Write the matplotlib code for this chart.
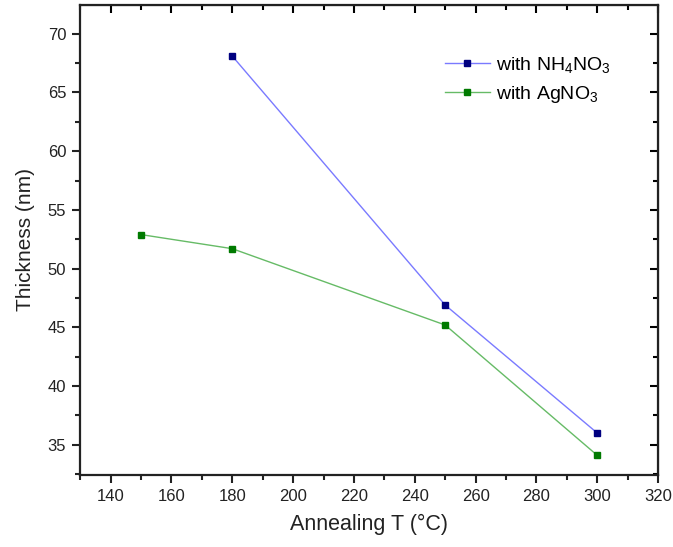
import matplotlib
matplotlib.use("Agg")
import matplotlib.pyplot as plt
from matplotlib.ticker import MultipleLocator

plt.rcParams['font.family'] = ['Liberation Sans', 'DejaVu Sans']
plt.rcParams['mathtext.fontset'] = 'custom'
plt.rcParams['mathtext.rm'] = 'Liberation Sans'
plt.rcParams['mathtext.default'] = 'rm'

# data
t_nh4 = [180, 250, 300]
thick_nh4 = [68.1, 46.9, 36.0]
t_ag = [150, 180, 250, 300]
thick_ag = [52.9, 51.7, 45.2, 34.1]

fig = plt.figure(figsize=(6.73, 5.47), dpi=100)
ax = fig.add_axes([0.119, 0.132, 0.859, 0.859])

ax.plot(t_nh4, thick_nh4, '-', color='#7a7aff', lw=1.0,
        marker='s', ms=4, mfc='#000080', mec='#000080', label='with NH$_4$NO$_3$')
ax.plot(t_ag, thick_ag, '-', color='#66bb66', lw=1.0,
        marker='s', ms=4, mfc='#007a00', mec='#007a00', label='with AgNO$_3$')

ax.set_xlim(130, 320)
ax.set_ylim(32.45, 72.45)
ax.xaxis.set_major_locator(MultipleLocator(20))
ax.xaxis.set_minor_locator(MultipleLocator(10))
ax.yaxis.set_major_locator(MultipleLocator(5))
ax.yaxis.set_minor_locator(MultipleLocator(2.5))

for s in ax.spines.values():
    s.set_linewidth(1.6)
    s.set_color('#222222')

ax.tick_params(which='both', direction='out', width=1.5, color='#222222',
               labelsize=12, labelcolor='#222222')
ax.tick_params(which='major', length=6, pad=4)
ax.tick_params(which='minor', length=3.5)

# inward ticks on top and right, no labels
top = ax.secondary_xaxis('top')
top.set_xticks(range(140, 321, 20))
top.xaxis.set_minor_locator(MultipleLocator(10))
top.tick_params(which='both', direction='in', width=1.5, labeltop=False)
top.tick_params(which='major', length=6)
top.tick_params(which='minor', length=3.5)
right = ax.secondary_yaxis('right')
right.set_yticks(range(35, 71, 5))
right.yaxis.set_minor_locator(MultipleLocator(2.5))
right.tick_params(which='both', direction='in', width=1.5, labelright=False)
right.tick_params(which='major', length=6)
right.tick_params(which='minor', length=3.5)

ax.set_xlabel('Annealing T (°C)', fontsize=15.5, color='#222222', labelpad=7)
ax.set_ylabel('Thickness (nm)', fontsize=15, color='#222222', labelpad=9)

ax.legend(loc='upper left', bbox_to_anchor=(0.631, 0.893), frameon=False,
          fontsize=14, handlelength=2.3, handletextpad=0.35, labelspacing=0.45,
          borderpad=0, borderaxespad=0)

fig.savefig('out.png', dpi=100)
